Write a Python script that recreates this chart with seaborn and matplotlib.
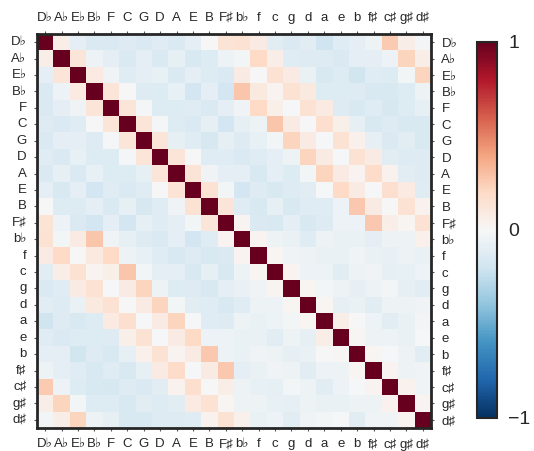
import numpy as np
import pandas as pd
import matplotlib
matplotlib.use("Agg")
import matplotlib.pyplot as plt
import seaborn as sns

# --- data: key correlation blocks (circle of fifths order) ---
major_keys = ["D♭", "A♭", "E♭", "B♭", "F", "C", "G", "D", "A", "E", "B", "F♯"]
minor_keys = ["b♭", "f", "c", "g", "d", "a", "e", "b", "f♯", "c♯", "g♯", "d♯"]

# major vs major
major_major = [
    [1.00, 0.07, -0.10, -0.15, -0.15, -0.13, -0.15, -0.12, -0.15, -0.10, 0.00, 0.14],
    [0.07, 1.00, 0.13, -0.06, -0.10, -0.15, -0.10, -0.15, -0.09, -0.16, -0.14, -0.06],
    [-0.10, 0.13, 1.00, 0.09, -0.04, -0.12, -0.10, -0.08, -0.15, -0.10, -0.14, -0.15],
    [-0.15, -0.06, 0.09, 1.00, 0.13, 0.00, -0.13, -0.14, -0.08, -0.18, -0.10, -0.18],
    [-0.15, -0.10, -0.04, 0.13, 1.00, 0.13, -0.02, -0.14, -0.14, -0.12, -0.15, -0.10],
    [-0.13, -0.15, -0.12, 0.00, 0.13, 1.00, 0.13, -0.02, -0.14, -0.15, -0.09, -0.18],
    [-0.15, -0.10, -0.10, -0.13, -0.02, 0.13, 1.00, 0.13, -0.09, -0.12, -0.17, -0.09],
    [-0.12, -0.15, -0.08, -0.14, -0.14, -0.02, 0.13, 1.00, 0.13, 0.00, -0.12, -0.12],
    [-0.15, -0.09, -0.15, -0.08, -0.14, -0.14, -0.09, 0.13, 1.00, 0.14, -0.04, -0.10],
    [-0.10, -0.16, -0.10, -0.18, -0.12, -0.15, -0.12, 0.00, 0.14, 1.00, 0.15, -0.03],
    [0.00, -0.14, -0.14, -0.10, -0.15, -0.09, -0.17, -0.12, -0.04, 0.15, 1.00, 0.13],
    [0.14, -0.06, -0.15, -0.18, -0.10, -0.18, -0.09, -0.12, -0.10, -0.03, 0.13, 1.00],
]

# major (rows) vs minor (columns)
major_minor = [
    [0.15, 0.08, -0.11, -0.15, -0.11, -0.20, -0.12, -0.10, -0.05, 0.26, 0.07, -0.03],
    [-0.03, 0.20, 0.07, -0.12, -0.13, -0.13, -0.15, -0.10, -0.10, -0.06, 0.22, 0.07],
    [0.08, 0.00, 0.15, 0.08, -0.07, -0.16, -0.14, -0.19, -0.12, -0.14, -0.03, 0.22],
    [0.28, 0.10, 0.03, 0.15, 0.10, -0.14, -0.14, -0.13, -0.16, -0.16, -0.14, -0.05],
    [-0.04, 0.20, 0.06, -0.01, 0.15, 0.09, -0.13, -0.16, -0.12, -0.17, -0.14, -0.09],
    [-0.09, -0.05, 0.28, 0.08, 0.00, 0.17, 0.06, -0.09, -0.16, -0.13, -0.16, -0.16],
    [-0.13, -0.08, -0.03, 0.22, 0.08, -0.01, 0.15, 0.05, -0.09, -0.15, -0.11, -0.16],
    [-0.15, -0.12, -0.10, -0.05, 0.22, 0.08, -0.01, 0.15, 0.08, -0.11, -0.13, -0.13],
    [-0.10, -0.16, -0.10, -0.14, -0.03, 0.22, 0.08, 0.03, 0.19, 0.04, -0.11, -0.13],
    [-0.18, -0.13, -0.16, -0.13, -0.11, -0.01, 0.20, 0.08, -0.01, 0.17, 0.09, -0.12],
    [-0.12, -0.16, -0.09, -0.16, -0.12, -0.12, -0.06, 0.27, 0.08, 0.00, 0.15, 0.04],
    [0.03, -0.15, -0.16, -0.10, -0.16, -0.13, -0.06, -0.06, 0.27, 0.07, 0.02, 0.15],
]

# minor vs minor
minor_minor = [
    [1.00, 0.03, -0.05, -0.07, -0.12, -0.05, -0.07, -0.07, -0.10, -0.05, -0.05, 0.05],
    [0.03, 1.00, 0.02, -0.04, -0.05, -0.07, -0.07, -0.04, -0.07, -0.08, -0.05, -0.07],
    [-0.05, 0.02, 1.00, 0.03, -0.06, -0.06, -0.11, -0.05, -0.04, -0.09, -0.08, -0.06],
    [-0.07, -0.04, 0.03, 1.00, 0.02, -0.03, -0.05, -0.09, -0.05, -0.03, -0.09, -0.11],
    [-0.12, -0.05, -0.06, 0.02, 1.00, 0.02, -0.09, -0.07, -0.11, -0.05, -0.05, -0.04],
    [-0.05, -0.07, -0.06, -0.03, 0.02, 1.00, 0.07, 0.00, -0.06, -0.11, -0.07, -0.03],
    [-0.07, -0.07, -0.11, -0.05, -0.09, 0.07, 1.00, 0.01, -0.05, -0.06, -0.07, -0.01],
    [-0.07, -0.04, -0.05, -0.09, -0.07, 0.00, 0.01, 1.00, 0.02, -0.01, -0.05, -0.11],
    [-0.10, -0.07, -0.04, -0.05, -0.11, -0.06, -0.05, 0.02, 1.00, 0.03, -0.05, -0.04],
    [-0.05, -0.08, -0.09, -0.03, -0.05, -0.11, -0.06, -0.01, 0.03, 1.00, 0.04, -0.04],
    [-0.05, -0.05, -0.08, -0.09, -0.05, -0.07, -0.07, -0.05, -0.05, 0.04, 1.00, 0.03],
    [0.05, -0.07, -0.06, -0.11, -0.04, -0.03, -0.01, -0.11, -0.04, -0.04, 0.03, 1.00],
]

cbar_ticks = [-1, 0, 1]

# --- build the full matrix ---
keys = major_keys + minor_keys
mm = np.array(major_major)
mn = np.array(major_minor)
nn = np.array(minor_minor)
corr = np.block([[mm, mn], [mn.T, nn]])
df = pd.DataFrame(corr, index=keys, columns=keys)

# --- plot ---
sns.set_style("white")
plt.rcParams["font.family"] = ["Liberation Sans", "DejaVu Sans"]

fig = plt.figure(figsize=(5.34, 4.51), dpi=100)
ax = fig.add_axes([37 / 534, 23 / 451, 394 / 534, 394 / 451])
cax = fig.add_axes([477 / 534, 33 / 451, 20 / 534, 376 / 451])

sns.heatmap(df, cmap="RdBu_r", vmin=-1, vmax=1, ax=ax, cbar_ax=cax,
            cbar_kws={"ticks": cbar_ticks}, xticklabels=True, yticklabels=True)

# frame round the matrix
for side in ["top", "bottom", "left", "right"]:
    ax.spines[side].set_visible(True)
    ax.spines[side].set_color("#262626")
    ax.spines[side].set_linewidth(2)

ax.tick_params(axis="x", top=True, bottom=True, labeltop=True, labelbottom=True,
               length=2.5, width=0.8, color="#555555", labelsize=9.5, rotation=0, pad=5)
ax.tick_params(axis="y", left=True, right=True, labelleft=True, labelright=True,
               length=2.5, width=0.8, color="#555555", labelsize=9.5, rotation=0, pad=5)
ax.set_xlabel("")
ax.set_ylabel("")

cb = ax.collections[0].colorbar
cb.outline.set_visible(True)
cb.outline.set_edgecolor("#262626")
cb.outline.set_linewidth(1.5)
cb.ax.tick_params(labelsize=14, length=0, pad=8)

fig.savefig("out.png", dpi=100)
